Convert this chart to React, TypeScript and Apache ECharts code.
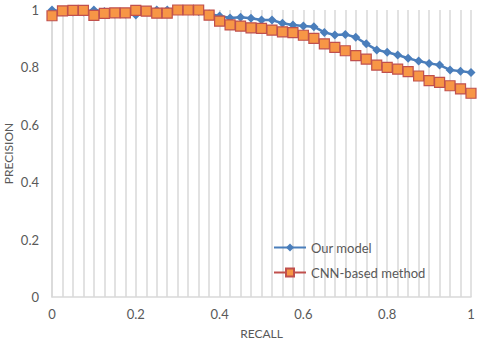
import React, { useEffect, useRef } from "react";
import * as echarts from "echarts";

const recall: number[] = [
  0, 0.025, 0.05, 0.075, 0.1, 0.125, 0.15, 0.175, 0.2, 0.225, 0.25, 0.275, 0.3, 0.325, 0.35, 0.375, 0.4,
  0.425, 0.45, 0.475, 0.5, 0.525, 0.55, 0.575, 0.6, 0.625, 0.65, 0.675, 0.7, 0.725, 0.75, 0.775, 0.8,
  0.825, 0.85, 0.875, 0.9, 0.925, 0.95, 0.975, 1,
];

const ourModel: number[] = [
  1.0, 0.995, 0.993, 0.993, 1.0, 0.995, 0.986, 0.986, 0.983, 0.995, 1.0, 1.0, 1.0, 0.997, 0.995, 0.986,
  0.979, 0.972, 0.975, 0.971, 0.965, 0.965, 0.954, 0.948, 0.944, 0.942, 0.922, 0.913, 0.915, 0.905,
  0.882, 0.861, 0.853, 0.843, 0.832, 0.822, 0.814, 0.808, 0.791, 0.787, 0.782,
];

const cnnBased: number[] = [
  0.98, 0.997, 0.999, 0.999, 0.981, 0.988, 0.99, 0.99, 0.999, 0.996, 0.989, 0.989, 1.0, 1.0, 1.0, 0.982,
  0.961, 0.948, 0.944, 0.938, 0.936, 0.93, 0.924, 0.921, 0.912, 0.901, 0.882, 0.87, 0.858, 0.841, 0.829,
  0.808, 0.8, 0.794, 0.785, 0.77, 0.754, 0.748, 0.736, 0.725, 0.71,
];

const seriesNames: string[] = ["Our model", "CNN-based method"];

export default function App() {
  const ref = useRef<HTMLDivElement>(null);
  useEffect(() => {
    if (!ref.current) return;
    const chart = echarts.init(ref.current, null, { renderer: "svg" });
    const font = "Lato, 'Open Sans', sans-serif";
    const gridColor = "#d9d9d9";
    const textColor = "#595959";
    chart.setOption({
      animation: false,
      backgroundColor: "#ffffff",
      textStyle: { fontFamily: font },
      grid: { left: 52, right: 9, top: 10, bottom: 45, containLabel: false, outerBoundsMode: "none" },
      legend: {
        orient: "vertical",
        left: 268,
        top: 236,
        itemWidth: 32,
        itemHeight: 10,
        itemGap: 12,
        textStyle: { color: textColor, fontSize: 13, fontFamily: font },
        data: seriesNames,
      },
      xAxis: {
        type: "value",
        min: 0,
        max: 1,
        interval: 0.2,
        name: "RECALL",
        nameLocation: "middle",
        nameGap: 30,
        nameMoveOverlap: false,
        nameTextStyle: { color: textColor, fontSize: 12, fontFamily: font },
        axisLine: { show: true, lineStyle: { color: gridColor, width: 1.5 } },
        axisTick: { show: false },
        axisLabel: { color: textColor, fontSize: 13, margin: 10, fontFamily: font },
        splitLine: { show: true, lineStyle: { color: gridColor, width: 1.5 } },
        minorTick: { show: false, splitNumber: 8 },
        minorSplitLine: { show: true, lineStyle: { color: gridColor, width: 1.5 } },
      },
      yAxis: {
        type: "value",
        min: 0,
        max: 1,
        interval: 0.2,
        name: "PRECISION",
        nameLocation: "middle",
        nameGap: 38,
        nameRotate: 90,
        nameMoveOverlap: false,
        nameTextStyle: { color: textColor, fontSize: 12, fontFamily: font },
        axisLine: { show: true, lineStyle: { color: gridColor, width: 1.5 } },
        axisTick: { show: false },
        axisLabel: { color: textColor, fontSize: 13, margin: 13, fontFamily: font },
        splitLine: { show: false },
      },
      series: [
        {
          name: seriesNames[0],
          type: "line",
          data: recall.map((x, i) => [x, ourModel[i]]),
          symbol: "diamond",
          symbolSize: 9,
          lineStyle: { color: "#4a7ebb", width: 2.5 },
          itemStyle: { color: "#4a7ebb" },
          z: 2,
        },
        {
          name: seriesNames[1],
          type: "line",
          data: recall.map((x, i) => [x, cnnBased[i]]),
          symbol: "rect",
          symbolSize: 10,
          lineStyle: { color: "#c0504d", width: 2.5 },
          itemStyle: { color: "#f79646", borderColor: "#c0504d", borderWidth: 1.2 },
          z: 3,
        },
      ],
    });
    return () => chart.dispose();
  }, []);
  return <div ref={ref} style={{ width: 480, height: 342, position: "absolute", left: 0, top: 0 }} />;
}
